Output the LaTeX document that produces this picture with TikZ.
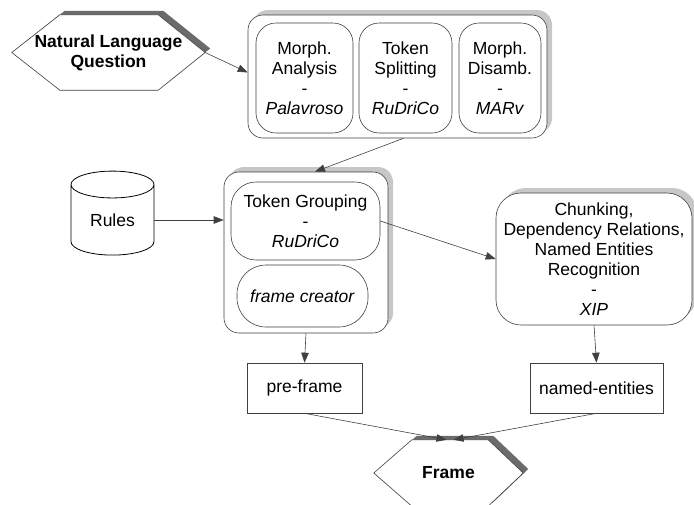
\documentclass[tikz,border=0pt]{standalone}
\usepackage{fontspec}
\setmainfont{Liberation Sans}
\usetikzlibrary{arrows.meta,shapes.geometric,shadows,backgrounds}
\begin{document}
\begin{tikzpicture}[x=1pt,y=-1pt,
  line/.style={draw=black!75, line width=0.6pt},
  conn/.style={line, -{Triangle[length=10pt,width=7.5pt]}},
  txt/.style={font=\fontsize{17.5}{20}\selectfont, align=center, inner sep=0pt},
  rbox/.style={line, fill=white, rounded corners=#1, txt},
  rbox/.default=15pt,
  cshadow/.style={drop shadow={shadow xshift=5pt, shadow yshift=5pt, fill=black!22, opacity=1}},
  sqbox/.style={line, fill=white, txt},
  hexshadow/.style={fill=black!58, draw=none, transform canvas={xshift=5pt, yshift=4pt}},
]
\useasboundingbox (0,0) rectangle (694,504);

% Natural Language Question
\node (nlq) [txt, font=\fontsize{17.5}{20}\selectfont\bfseries, minimum width=193pt, minimum height=75pt] at (108.5,52.5) {Natural Language\\Question};

% top container
\node (top) [rbox=15pt, cshadow, minimum width=299pt, minimum height=123pt] at (397.5,76.5) {};
\node (ma) [rbox=20pt, minimum width=97pt, minimum height=110pt] at (304.5,78) {Morph.\\Analysis\\-\\\textit{Palavroso}};
\node (ts) [rbox=20pt, minimum width=93pt, minimum height=110pt] at (405.5,78) {Token\\Splitting\\-\\\textit{RuDriCo}};
\node (md) [rbox=20pt, minimum width=82pt, minimum height=110pt] at (500,78) {Morph.\\Disamb.\\-\\\textit{MARv}};

% Rules
\node (rules) [cylinder, shape border rotate=90, aspect=0.6, draw=black, line width=0.8pt, fill=white, txt, minimum width=83pt, minimum height=84pt] at (112.5,220) {Rules};

% middle container
\node (mid) [rbox=15pt, cshadow, minimum width=164pt, minimum height=161pt] at (306,252.5) {};
\node (tg) [rbox=25pt, minimum width=149pt, minimum height=78pt] at (305.5,221) {Token Grouping\\-\\\textit{RuDriCo}};
\node (fc) [rbox=29pt, minimum width=131pt, minimum height=62pt] at (302.5,296) {\textit{frame creator}};

% XIP
\node (xip) [rbox=25pt, cshadow, minimum width=196pt, minimum height=132pt] at (594,259) {Chunking,\\Dependency Relations,\\Named Entities\\Recognition\\-\\\textit{XIP}};

% outputs
\node (pf) [sqbox, minimum width=115pt, minimum height=50pt] at (304.5,388) {pre-frame};
\node (ne) [sqbox, minimum width=133pt, minimum height=50pt] at (596.5,388) {named-entities};

% Frame
\node (frame) [txt, font=\fontsize{17.5}{20}\selectfont\bfseries, minimum width=149pt, minimum height=66pt] at (448.5,473) {Frame};

\begin{scope}[on background layer]
  \fill[hexshadow] (nlq.west) -- ([xshift=48pt]nlq.north west) -- ([xshift=-47pt]nlq.north east) -- (nlq.east) -- ([xshift=-47pt]nlq.south east) -- ([xshift=48pt]nlq.south west) -- cycle;
  \path[line, fill=white] (nlq.west) -- ([xshift=48pt]nlq.north west) -- ([xshift=-47pt]nlq.north east) -- (nlq.east) -- ([xshift=-47pt]nlq.south east) -- ([xshift=48pt]nlq.south west) -- cycle;
  \fill[hexshadow] (frame.west) -- ([xshift=38pt]frame.north west) -- ([xshift=-35pt]frame.north east) -- (frame.east) -- ([xshift=-35pt]frame.south east) -- ([xshift=38pt]frame.south west) -- cycle;
  \path[line, fill=white] (frame.west) -- ([xshift=38pt]frame.north west) -- ([xshift=-35pt]frame.north east) -- (frame.east) -- ([xshift=-35pt]frame.south east) -- ([xshift=38pt]frame.south west) -- cycle;
\end{scope}

% connectors
\draw[conn] (nlq.east) -- ([yshift=4pt]top.west);
\draw[conn] ([xshift=6pt]top.south) -- ([xshift=9pt]mid.north);
\draw[conn] (rules.east) -- (rules.east -| mid.west);
\draw[conn] (tg.east) -- (xip.west);
\draw[conn] (mid.south) -- (pf.north);
\draw[conn] (xip.south) -- (ne.north);
\draw[conn] (pf.south) -- ([xshift=-2pt]frame.north);
\draw[conn] (ne.south) -- ([xshift=5pt]frame.north);
\end{tikzpicture}
\end{document}
